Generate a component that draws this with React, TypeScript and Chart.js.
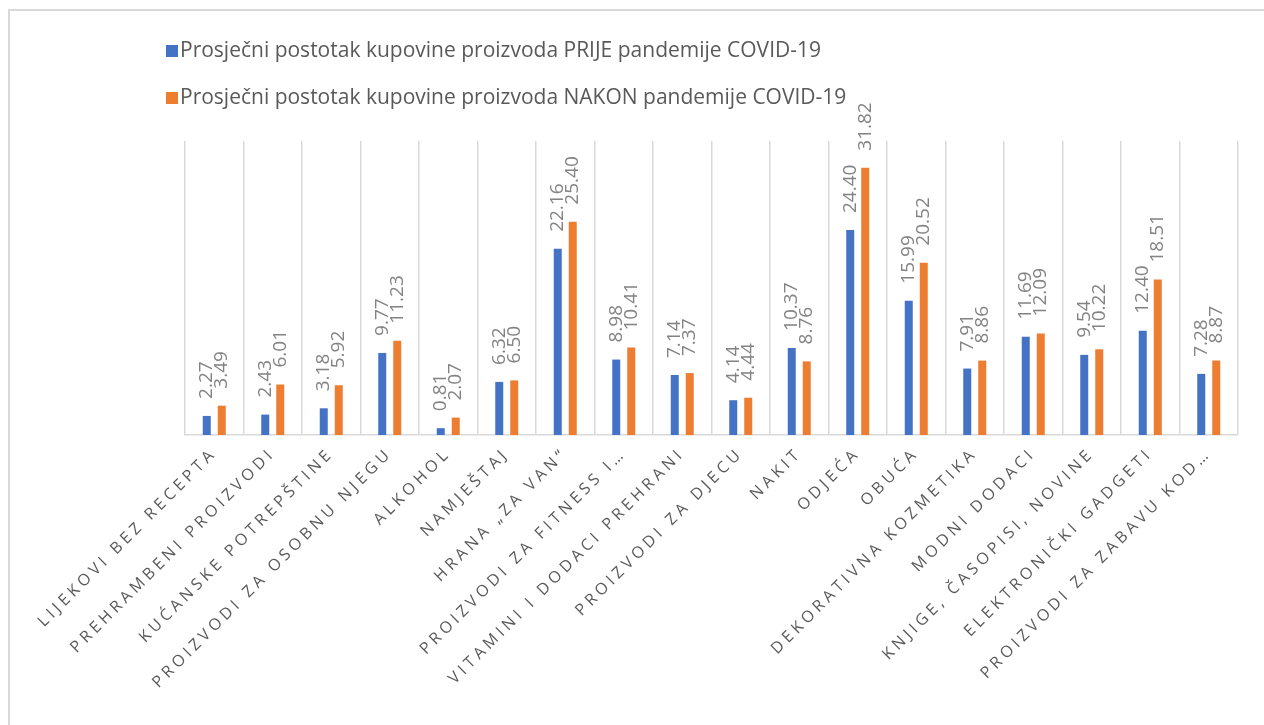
import React, { useEffect, useRef } from "react";
import { Chart, registerables } from "chart.js";

Chart.register(...registerables);

const categories = [
  "LIJEKOVI BEZ RECEPTA",
  "PREHRAMBENI PROIZVODI",
  "KUĆANSKE POTREPŠTINE",
  "PROIZVODI ZA OSOBNU NJEGU",
  "ALKOHOL",
  "NAMJEŠTAJ",
  "HRANA „ZA VAN“",
  "PROIZVODI ZA FITNESS I…",
  "VITAMINI I DODACI PREHRANI",
  "PROIZVODI ZA DJECU",
  "NAKIT",
  "ODJEĆA",
  "OBUĆA",
  "DEKORATIVNA KOZMETIKA",
  "MODNI DODACI",
  "KNJIGE, ČASOPISI, NOVINE",
  "ELEKTRONIČKI GADGETI",
  "PROIZVODI ZA ZABAVU KOD…",
];

const beforeValues = [2.27, 2.43, 3.18, 9.77, 0.81, 6.32, 22.16, 8.98, 7.14, 4.14, 10.37, 24.4, 15.99, 7.91, 11.69, 9.54, 12.4, 7.28];
const afterValues = [3.49, 6.01, 5.92, 11.23, 2.07, 6.5, 25.4, 10.41, 7.37, 4.44, 8.76, 31.82, 20.52, 8.86, 12.09, 10.22, 18.51, 8.87];

const seriesLabels = [
  "Prosječni postotak kupovine proizvoda PRIJE pandemije COVID-19",
  "Prosječni postotak kupovine proizvoda NAKON pandemije COVID-19",
];
const seriesColors = ["#4472C4", "#ED7D31"];

const yMin = 0;
const yMax = 35;

export default function App() {
  const ref = useRef<HTMLCanvasElement | null>(null);

  useEffect(() => {
    if (!ref.current) return;

    const TICK_SPACING = "4px";

    const spacingPlugin = {
      id: "letterSpacingTicks",
      beforeLayout(chart: any) {
        chart.ctx.letterSpacing = TICK_SPACING;
      },
      afterLayout(chart: any) {
        chart.ctx.letterSpacing = "0px";
      },
      beforeDraw(chart: any) {
        chart.ctx.letterSpacing = TICK_SPACING;
      },
      beforeDatasetsDraw(chart: any) {
        chart.ctx.letterSpacing = "0px";
      },
    };

    const dataLabelPlugin = {
      id: "rotatedDataLabels",
      afterDatasetsDraw(chart: any) {
        const ctx = chart.ctx;
        ctx.save();
        ctx.letterSpacing = "0px";
        ctx.font = '19px "Open Sans"';
        ctx.fillStyle = "#838383";
        ctx.textAlign = "left";
        ctx.textBaseline = "middle";
        chart.data.datasets.forEach((ds: any, di: number) => {
          const meta = chart.getDatasetMeta(di);
          meta.data.forEach((bar: any, i: number) => {
            const v = ds.data[i] as number;
            ctx.save();
            ctx.translate(bar.x, bar.y - 17);
            ctx.rotate(-Math.PI / 2);
            ctx.fillText(v.toFixed(2), 0, 0);
            ctx.restore();
          });
        });
        ctx.restore();
      },
    };

    const legendPlugin = {
      id: "customLegend",
      afterDraw(chart: any) {
        const ctx = chart.ctx;
        ctx.save();
        ctx.letterSpacing = "0px";
        ctx.font = '21px "Open Sans"';
        ctx.textAlign = "left";
        ctx.textBaseline = "middle";
        const rowsY = [51, 98];
        chart.data.datasets.forEach((ds: any, i: number) => {
          const y = rowsY[i];
          ctx.fillStyle = ds.backgroundColor;
          ctx.fillRect(166, y - 6, 12, 12);
          ctx.fillStyle = "#595959";
          ctx.fillText(ds.label, 180, y);
        });
        ctx.restore();
      },
    };

    const chart = new Chart(ref.current, {
      type: "bar",
      data: {
        labels: categories,
        datasets: [
          {
            label: seriesLabels[0],
            data: beforeValues,
            backgroundColor: seriesColors[0],
            categoryPercentage: 0.513,
            barPercentage: 0.533,
          },
          {
            label: seriesLabels[1],
            data: afterValues,
            backgroundColor: seriesColors[1],
            categoryPercentage: 0.513,
            barPercentage: 0.533,
          },
        ],
      },
      options: {
        animation: false,
        responsive: true,
        maintainAspectRatio: false,
        layout: { padding: { left: 185, right: 26, top: 141, bottom: 0 } },
        scales: {
          x: {
            grid: { color: "#d9d9d9", lineWidth: 1.5, drawTicks: false, offset: true },
            border: { color: "#d9d9d9", width: 1.5 },
            ticks: {
              autoSkip: false,
              minRotation: 45,
              maxRotation: 45,
              color: "#595959",
              font: { family: "Open Sans", size: 16 },
              padding: 9,
            },
            afterFit(scale: any) {
              scale.height = 290;
            },
          },
          y: { display: false, min: yMin, max: yMax },
        },
        plugins: {
          legend: { display: false },
          tooltip: { enabled: false },
        },
      },
      plugins: [spacingPlugin, dataLabelPlugin, legendPlugin],
    });

    return () => chart.destroy();
  }, []);

  return (
    <>
      <div
        style={{
          position: "absolute",
          left: 8,
          top: 9,
          width: 1256,
          height: 716,
          boxSizing: "border-box",
          borderLeft: "2px solid #d9d9d9",
          borderTop: "2px solid #d9d9d9",
        }}
      />
      <div style={{ position: "absolute", left: 0, top: 0, width: 1264, height: 725 }}>
        <canvas ref={ref} />
      </div>
    </>
  );
}
